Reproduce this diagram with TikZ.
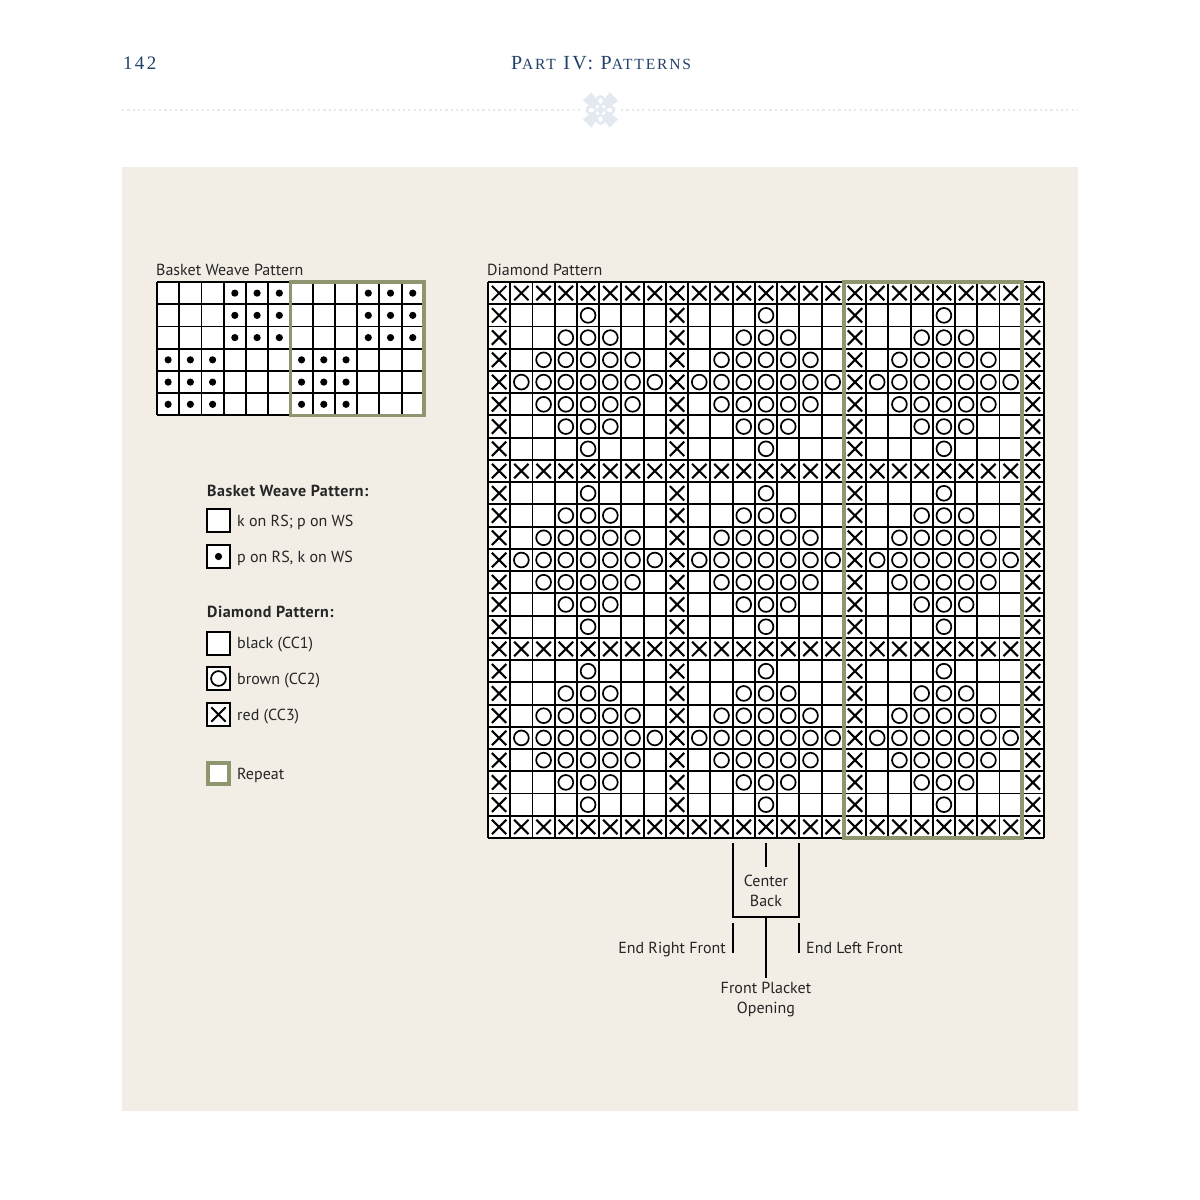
\documentclass[tikz,border=0pt]{standalone}
\usepackage{fontspec}
\setmainfont{PT Sans}
\newfontfamily\hdrfont[LetterSpace=12]{Liberation Serif}
\definecolor{panel}{HTML}{F2EDE5}
\definecolor{navy}{HTML}{22406A}
\definecolor{orn}{HTML}{E4E9F1}
\definecolor{rep}{HTML}{8E9670}
\tikzset{
  gridln/.style={black, line width=1.9pt},
  xmark/.style={black, line width=2.1pt},
  omark/.style={black, line width=1.7pt},
  lab/.style={inner sep=0pt, font=\fontsize{16}{20}\selectfont, text=black!85},
  labb/.style={inner sep=0pt, font=\fontsize{16}{20}\selectfont\bfseries\addfontfeature{LetterSpace=3}, text=black!85},
  repbox/.style={rep, line width=3.6pt},
  legbox/.style={draw=black, fill=white, line width=1.9pt},
  ann/.style={black, line width=1.8pt},
}
\begin{document}
\begin{tikzpicture}[x=1pt,y=-1pt]
\useasboundingbox (0,0) rectangle (1200,1200);
\fill[white] (0,0) rectangle (1200,1200);
% header
\node[anchor=base west, inner sep=0pt, text=navy, font=\hdrfont\fontsize{19}{19}\selectfont] (pgnum) at (123,69) {142};
\node[inner sep=0pt, text=navy, anchor=base] (title) at (601,69)
  {\hdrfont\fontsize{20}{20}\selectfont P\fontsize{15.5}{15.5}\selectfont ART\fontsize{20}{20}\selectfont\ IV: P\fontsize{15.5}{15.5}\selectfont ATTERNS};
\draw[orn, line width=2.2pt, dash pattern=on 2.2pt off 3.1pt] (122,110) -- (580,110);
\draw[orn, line width=2.2pt, dash pattern=on 2.2pt off 3.1pt] (621,110) -- (1078,110);
% ornament
\begin{scope}[shift={(600.5,110)}]
  \foreach \a in {45,135,225,315}{
    \fill[orn, rotate=\a] (6,-4) -- (19,-6) -- (19,6) -- (6,4) -- cycle;
  }
  \foreach \a in {0,90,180,270}{
    \fill[orn, rotate=\a] (3,0) .. controls (7,-7) and (14,-6) .. (15,0) .. controls (14,6) and (7,7) .. (3,0) -- cycle;
    \fill[white, rotate=\a] (6,0) .. controls (8,-3) and (11,-3) .. (12,0) .. controls (11,3) and (8,3) .. (6,0) -- cycle;
  }
  \fill[orn] (0,0) circle (3.5);
\end{scope}
% panel
\fill[panel] (122,167) rectangle (1078,1111);

% ---------- Basket weave chart ----------
\node[lab, anchor=base west] (bwtitle) at (156,275) {Basket Weave Pattern};
\def\cs{22.24}
\begin{scope}[shift={(157,282)}]
  \fill[white] (0,0) rectangle (12*\cs,6*\cs);
  \foreach \i in {0,...,12} \draw[gridln] (\i*\cs,0) -- (\i*\cs,6*\cs);
  \foreach \j in {0,...,6} \draw[gridln] (0,\j*\cs) -- (12*\cs,\j*\cs);
  \foreach \i in {3,4,5,9,10,11} \foreach \j in {0,1,2}
    \fill[black] ({(\i+0.5)*\cs},{(\j+0.5)*\cs}) circle (3.6);
  \foreach \i in {0,1,2,6,7,8} \foreach \j in {3,4,5}
    \fill[black] ({(\i+0.5)*\cs},{(\j+0.5)*\cs}) circle (3.6);
  \draw[repbox] (6*\cs,0) rectangle (12*\cs,6*\cs);
\end{scope}

% ---------- Diamond chart ----------
\node[lab, anchor=base west] (dmtitle) at (487,275) {Diamond Pattern};
\begin{scope}[shift={(488,282)}]
  \fill[white] (0,0) rectangle (25*\cs,25*\cs);
  \foreach \i in {0,...,25} \draw[gridln] (\i*\cs,0) -- (\i*\cs,25*\cs);
  \foreach \j in {0,...,25} \draw[gridln] (0,\j*\cs) -- (25*\cs,\j*\cs);
  \foreach \i in {0,...,24}{
    \foreach \j in {0,...,24}{
      \pgfmathtruncatemacro\ri{mod(\i,8)}
      \pgfmathtruncatemacro\rj{mod(\j,8)}
      \pgfmathtruncatemacro\dd{abs(\ri-4)+abs(\rj-4)}
      \pgfmathsetmacro\cx{(\i+0.5)*\cs}
      \pgfmathsetmacro\cy{(\j+0.5)*\cs}
      \ifnum\ri=0
        \draw[xmark] (\cx-7.2,\cy-7.2) -- (\cx+7.2,\cy+7.2) (\cx-7.2,\cy+7.2) -- (\cx+7.2,\cy-7.2);
      \else\ifnum\rj=0
        \draw[xmark] (\cx-7.2,\cy-7.2) -- (\cx+7.2,\cy+7.2) (\cx-7.2,\cy+7.2) -- (\cx+7.2,\cy-7.2);
      \else\ifnum\dd<4
        \draw[omark] (\cx,\cy) circle (7.4);
      \fi\fi\fi
    }
  }
  \draw[repbox] (16*\cs,0) rectangle (24*\cs,25*\cs);
\end{scope}

% ---------- Annotations below diamond chart ----------
\coordinate (tl) at (733,843);
\coordinate (tc) at (766,843);
\coordinate (tr) at (799,843);
\coordinate (bl) at (733,917);
\coordinate (bc) at (766,917);
\coordinate (br) at (799,917);
\coordinate (cbtop) at (766,867);
\coordinate (fptop) at (766,978);
\node[lab, align=center, anchor=base] (cback) at (766,906) {Center\\Back};
\node[lab, align=center, anchor=base] (fpo) at (766,1013) {Front Placket\\Opening};
\node[lab, anchor=base east] (erf) at (726,953) {End Right Front};
\node[lab, anchor=base west] (elf) at (806,953) {End Left Front};
\draw[ann] (tl) -- (bl) -- (br) -- (tr);
\draw[ann] (tc) -- (cbtop);
\draw[ann] (bc) -- (fptop);
\draw[ann] (733,923) -- (733,953);
\draw[ann] (799,923) -- (799,953);

% ---------- Legend ----------
\node[labb, anchor=base west] (lg1) at (207,496) {Basket Weave Pattern:};
\draw[legbox] (207,509) rectangle (230,532);
\node[lab, anchor=base west] (k1) at (237,526.5) {k on RS; p on WS};
\draw[legbox] (207,545) rectangle (230,568);
\fill[black] (218.5,556.5) circle (3.6);
\node[lab, anchor=base west] (k2) at (237,562.5) {p on RS, k on WS};

\node[labb, anchor=base west] (lg2) at (207,617) {Diamond Pattern:};
\draw[legbox] (207,632) rectangle (230,655);
\node[lab, anchor=base west] (k3) at (237,648) {black (CC1)};
\draw[legbox] (207,667) rectangle (230,690);
\draw[omark] (218.5,678.5) circle (7.4);
\node[lab, anchor=base west] (k4) at (237,684) {brown (CC2)};
\draw[legbox] (207,703) rectangle (230,726);
\draw[xmark] (211.3,707.3) -- (225.7,721.7) (211.3,721.7) -- (225.7,707.3);
\node[lab, anchor=base west] (k5) at (237,720) {red (CC3)};
\draw[repbox, fill=white] (208,763) rectangle (229,784);
\node[lab, anchor=base west] (k6) at (237,779) {Repeat};
\end{tikzpicture}
\end{document}
